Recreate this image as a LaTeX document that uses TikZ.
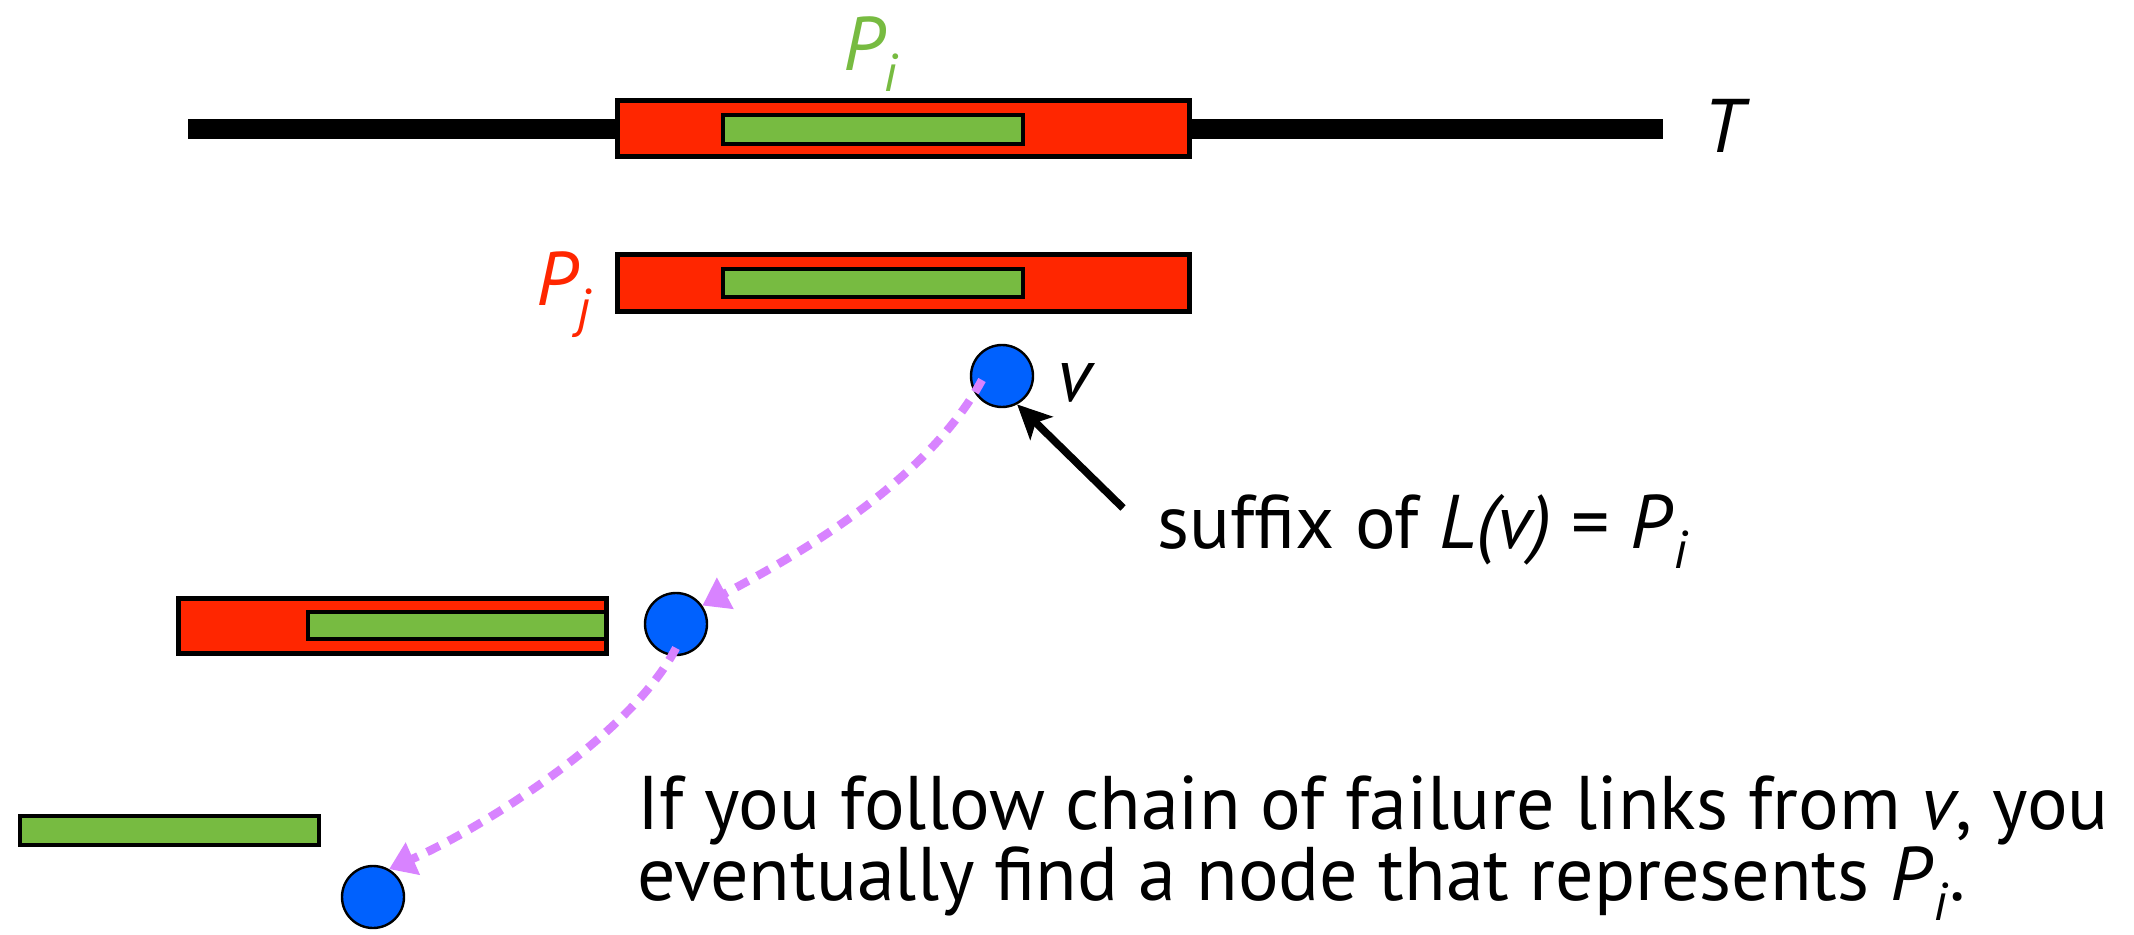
\documentclass[tikz,border=0pt]{standalone}
\usepackage{fontspec}
\setmainfont{PT Sans}
\usetikzlibrary{arrows.meta,calc}
\definecolor{kred}{HTML}{FF2600}
\definecolor{kgreen}{HTML}{77BB41}
\definecolor{kblue}{HTML}{0061FE}
\definecolor{kviolet}{HTML}{D883FF}
\begin{document}
\begin{tikzpicture}[x=0.5pt, y=-0.5pt, >=Stealth,
  every node/.style={font=\fontsize{38}{35.5}\selectfont, inner sep=0pt},
  redbar/.style={draw=black, line width=2.5pt, fill=kred},
  greenbar/.style={draw=black, line width=2pt, fill=kgreen},
  vnode/.style={circle, draw=black, line width=1.2pt, fill=kblue, minimum size=31pt},
  faillink/.style={draw=kviolet, line width=4.2pt, dash pattern=on 7pt off 5pt,
    -{Triangle[length=13pt,width=17pt]}}]
  \useasboundingbox (0,0) rectangle (2134,935);
  \draw[line width=10pt] (188,129) -- (1663,129);
  \draw[redbar] (617,101) rectangle (1189,157);
  \draw[greenbar] (723,115) rectangle (1023,144);
  \draw[redbar] (617,255) rectangle (1189,312);
  \draw[greenbar] (723,269) rectangle (1023,297);
  \draw[redbar] (178,598) rectangle (606,653);
  \draw[greenbar] (308,612) rectangle (606,639);
  \draw[greenbar] (20,816) rectangle (319,845);
  \node[anchor=base west] (tlab) at (1703,153) {\itshape T};
  \node[anchor=base, text=kgreen] (pi) at (871,71) {\itshape P\textsubscript{i}};
  \node[anchor=base east, text=kred] (pj) at (592,306) {\itshape P\textsubscript{j}};
  \node[vnode] (v) at (1002,376) {};
  \node[vnode] (n2) at (676,624) {};
  \node[vnode] (n3) at (373,897) {};
  \node[anchor=base west] (vlab) at (1057,401) {\itshape v};
  \node[anchor=base west] (sfxlab) at (1157,548) {suffix of \textit{L(v)} = \textit{P}\textsubscript{\textit{i}}};
  \coordinate (sfx) at (1123,508);
  \draw[-{Stealth[length=17pt,width=16pt,inset=4pt]}, line width=3.8pt] (sfx) -- (v.-62);
  \draw[faillink] ($(v)+(-20,4)$) .. controls (923,488) and (782,563) .. (n2.35);
  \draw[faillink] ($(n2)+(0,24)$) .. controls (630,737) and (478,830) .. (n3.60);
  \node[anchor=north west, align=left] (note) at (637,775) {If you follow chain of failure links from \textit{v}, you\\eventually find a node that represents \textit{P}\textsubscript{\textit{i}}.};
\end{tikzpicture}
\end{document}
